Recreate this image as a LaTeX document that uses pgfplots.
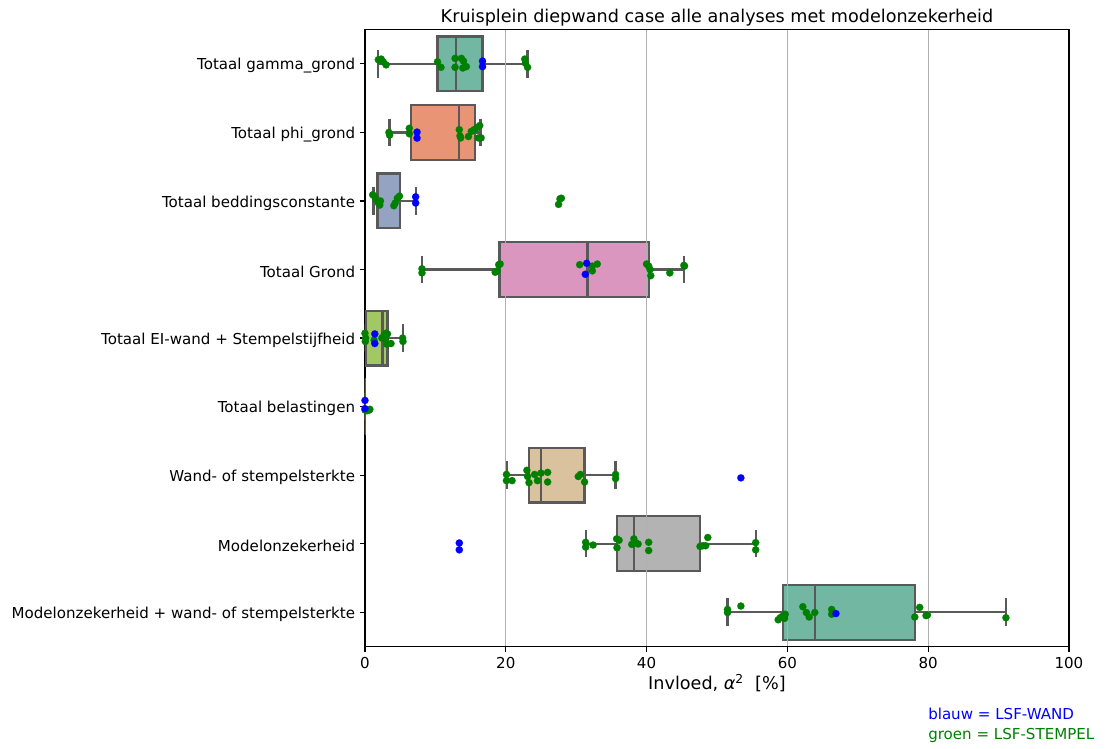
\documentclass[border=0pt]{standalone}
\usepackage{fontspec}
\setmainfont{DejaVu Sans}
\usepackage{pgfplots}
\pgfplotsset{compat=1.18}
\usepgfplotslibrary{statistics}
\definecolor{c0}{RGB}{114,183,161}
\definecolor{c1}{RGB}{233,149,117}
\definecolor{c2}{RGB}{149,163,195}
\definecolor{c3}{RGB}{219,150,192}
\definecolor{c4}{RGB}{162,200,100}
\definecolor{c5}{RGB}{229,200,73}
\definecolor{c6}{RGB}{219,194,158}
\definecolor{c7}{RGB}{179,179,179}
\definecolor{linegray}{RGB}{89,89,89}
\definecolor{gridgray}{RGB}{176,176,176}
\definecolor{grn}{RGB}{0,128,0}
\definecolor{blu}{RGB}{0,0,255}
\newcommand{\tf}{\fontsize{10.85}{13}\selectfont}
\newcommand{\lf}{\fontsize{12.68}{15}\selectfont}
\pgfplotsset{
  mybox/.style={draw=linegray, line width=1.6pt, solid},
}
\begin{document}
\begin{tikzpicture}
\useasboundingbox (0,0) rectangle (800pt,539.3pt);
\begin{axis}[
  at={(262.8pt,73.8pt)}, anchor=south west,
  width=506.9pt, height=444.2pt, scale only axis,
  xmin=0, xmax=100, ymin=-0.5, ymax=8.5, y dir=reverse,
  xtick={0,20,...,100}, ytick={0,...,8},
  xtick pos=lower, ytick pos=left,
  yticklabels={Totaal gamma\_grond, Totaal phi\_grond, Totaal beddingsconstante, Totaal Grond, Totaal EI-wand + Stempelstijfheid, Totaal belastingen, Wand- of stempelsterkte, Modelonzekerheid, Modelonzekerheid + wand- of stempelsterkte},
  tick align=outside, major tick length=3.7pt,
  tick style={black, line width=0.85pt},
  axis line style={line width=0.85pt},
  tick label style={font=\tf},
  /pgf/number format/assume math mode=true,
  xticklabel style={inner sep=0pt, anchor=north, yshift=-3.6pt},
  yticklabel style={inner sep=0pt, anchor=east, xshift=-3.2pt, yshift=-1.4pt},
  xlabel={Invloed, \textit{α}\textsuperscript{2}\ \ [\%]},
  xlabel style={at={(axis description cs:0.5,0)}, anchor=base, yshift=-31.3pt, font=\lf},
]
\addplot[mybox, fill=c0, boxplot prepared={draw position=0, lower whisker=1.9, lower quartile=10.3, median=12.9, upper quartile=16.7, upper whisker=23.1, box extend=0.8, whisker extend=0.4}] coordinates {};
\addplot[mybox, fill=c1, boxplot prepared={draw position=1, lower whisker=3.5, lower quartile=6.5, median=13.4, upper quartile=15.6, upper whisker=16.4, box extend=0.8, whisker extend=0.4}] coordinates {};
\addplot[mybox, fill=c2, boxplot prepared={draw position=2, lower whisker=1.2, lower quartile=1.66, median=1.85, upper quartile=4.97, upper whisker=7.2, box extend=0.8, whisker extend=0.4}] coordinates {};
\addplot[mybox, fill=c3, boxplot prepared={draw position=3, lower whisker=8.1, lower quartile=19.1, median=31.6, upper quartile=40.4, upper whisker=45.3, box extend=0.8, whisker extend=0.4}] coordinates {};
\addplot[mybox, fill=c4, boxplot prepared={draw position=4, lower whisker=0.0, lower quartile=0.14, median=2.5, upper quartile=3.2, upper whisker=5.45, box extend=0.8, whisker extend=0.4}] coordinates {};
\addplot[mybox, fill=c5, boxplot prepared={draw position=5, lower whisker=0.0, lower quartile=0.0, median=0.0, upper quartile=0.01, upper whisker=0.01, box extend=0.8, whisker extend=0.4}] coordinates {};
\addplot[mybox, fill=c6, boxplot prepared={draw position=6, lower whisker=20.1, lower quartile=23.25, median=25.0, upper quartile=31.2, upper whisker=35.6, box extend=0.8, whisker extend=0.4}] coordinates {};
\addplot[mybox, fill=c7, boxplot prepared={draw position=7, lower whisker=31.35, lower quartile=35.75, median=38.2, upper quartile=47.6, upper whisker=55.5, box extend=0.8, whisker extend=0.4}] coordinates {};
\addplot[mybox, fill=c0, boxplot prepared={draw position=8, lower whisker=51.5, lower quartile=59.4, median=63.9, upper quartile=78.1, upper whisker=91.05, box extend=0.8, whisker extend=0.4}] coordinates {};
% vertical grid lines (drawn above the boxes, as in the reference)
\addplot[gridgray, line width=0.85pt] coordinates {(20,-0.5) (20,8.5)};
\addplot[gridgray, line width=0.85pt] coordinates {(40,-0.5) (40,8.5)};
\addplot[gridgray, line width=0.85pt] coordinates {(60,-0.5) (60,8.5)};
\addplot[gridgray, line width=0.85pt] coordinates {(80,-0.5) (80,8.5)};
% green points (LSF-STEMPEL)
\addplot[only marks, mark=*, mark size=2.6pt, color=grn, mark options={line width=0.1pt}] coordinates {
(1.9,-0.06) (2.3,-0.07) (2.6,-0.03) (3.0,0.015)
(10.3,-0.03) (10.8,0.05) (12.8,-0.08) (12.8,0.05)
(13.7,-0.08) (14.0,-0.04) (14.4,0.04) (13.9,0.06)
(22.7,-0.07) (22.8,-0.01) (23.1,0.05)
(3.4,1.0) (3.5,1.04) (6.3,0.94) (6.3,1.02)
(13.4,0.96) (13.5,1.05) (13.6,1.08) (14.7,1.06)
(15.1,0.985) (15.5,0.96) (15.9,0.93) (16.3,0.9) (16.1,1.08) (16.5,1.08)
(1.1,1.91) (1.4,1.94) (1.6,1.98) (1.9,2.03) (2.1,2.06) (2.2,2.0)
(4.9,1.93) (4.6,1.96) (4.3,2.03) (4.1,2.07)
(27.9,1.96) (27.7,1.97) (27.5,2.05)
(8.1,2.99) (8.1,3.05) (18.5,3.04) (18.8,3.02) (19.2,2.92) (19.0,2.93)
(30.5,2.93) (32.3,2.95) (32.3,3.02) (33.0,2.92)
(40.0,2.92) (40.3,2.95) (40.5,3.0) (40.6,3.09) (43.3,3.05) (45.3,2.94) (45.4,2.95)
(0.0,3.93) (0.05,4.05) (0.1,4.0) (1.3,4.03)
(2.4,4.0) (2.7,3.96) (3.0,3.93) (3.2,3.94) (2.9,4.02) (3.1,4.09) (3.7,4.08)
(5.35,4.0) (5.4,4.05)
(0.0,5.05) (0.3,5.06) (0.6,5.05) (0.7,5.04)
(20.1,5.99) (20.1,6.08) (20.9,6.08) (23.0,5.93) (23.1,6.02) (23.3,6.11)
(24.1,5.99) (25.0,5.97) (24.5,6.08) (25.95,5.96) (25.95,6.1)
(30.3,6.02) (30.6,5.99) (31.2,6.1) (35.6,5.99) (35.6,6.05)
(31.35,6.98) (31.35,7.05) (32.4,7.02) (35.75,6.93) (36.1,6.95) (35.8,7.06)
(37.9,7.01) (38.2,6.93) (38.5,6.99) (38.8,7.005) (40.3,6.98) (40.3,7.1)
(47.6,7.04) (48.0,7.03) (48.4,7.03) (48.7,6.91) (55.5,6.985) (55.5,7.09)
(51.5,7.96) (51.5,8.005) (53.4,7.91) (58.7,8.11) (59.0,8.08) (59.3,8.06) (59.7,8.03) (59.6,8.09)
(62.2,7.92) (62.7,8.005) (63.1,8.07) (63.9,8.005) (66.3,7.96) (66.3,8.03)
(78.1,8.07) (78.8,7.93) (79.7,8.05) (79.9,8.04) (91.05,8.08)
};
% blue points (LSF-WAND)
\addplot[only marks, mark=*, mark size=2.6pt, color=blu, mark options={line width=0.1pt}] coordinates {
(16.7,-0.04) (16.7,0.04)
(7.4,0.995) (7.4,1.083)
(7.2,1.94) (7.2,2.03)
(31.5,2.91) (31.3,3.07)
(1.4,3.94) (1.4,4.08)
(0.0,4.91) (0.0,5.03)
(53.4,6.04)
(13.4,6.99) (13.4,7.09)
(66.9,8.02)
};
\end{axis}
\node[anchor=base, font=\lf, inner sep=0pt] at (516.25pt,523.0pt) {Kruisplein diepwand case alle analyses met modelonzekerheid};
\node[anchor=base west, text=blu, font=\tf, inner sep=0pt] at (668.2pt,20.9pt) {blauw = LSF-WAND};
\node[anchor=base west, text=grn, font=\tf, inner sep=0pt] at (668.2pt,6.5pt) {groen = LSF-STEMPEL};
\end{tikzpicture}
\end{document}
